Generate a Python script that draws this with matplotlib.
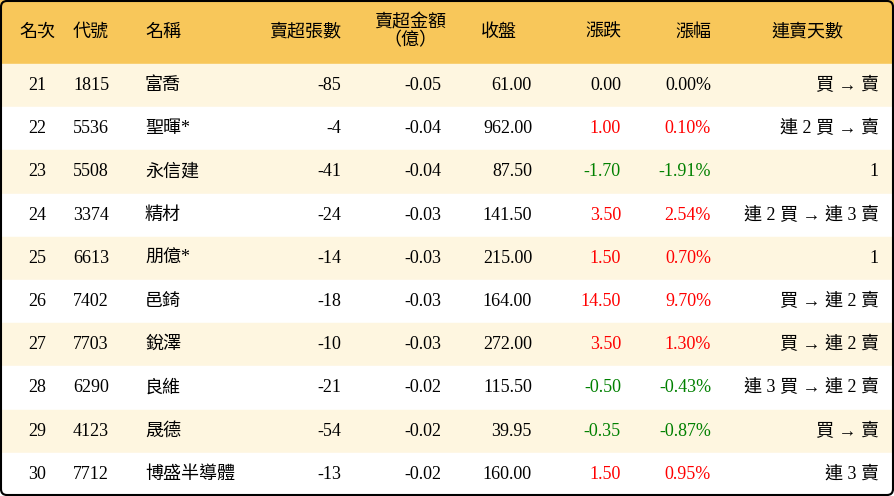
import matplotlib
matplotlib.use("Agg")
from matplotlib import pyplot as plt
from matplotlib.patches import Rectangle, FancyBboxPatch

plt.rcParams["font.family"] = ["Liberation Serif", "Noto Sans CJK TC"]

# table data
ranks = [21, 22, 23, 24, 25, 26, 27, 28, 29, 30]
codes = ["1815", "5536", "5508", "3374", "6613", "7402", "7703", "6290", "4123", "7712"]
names = ["富喬", "聖暉*", "永信建", "精材", "朋億*", "邑錡", "銳澤", "良維", "晟德", "博盛半導體"]
net_sell_lots = [-85, -4, -41, -24, -14, -18, -10, -21, -54, -13]
net_sell_amt = [-0.05, -0.04, -0.04, -0.03, -0.03, -0.03, -0.03, -0.02, -0.02, -0.02]
close = [61.00, 962.00, 87.50, 141.50, 215.00, 164.00, 272.00, 115.50, 39.95, 160.00]
change = [0.00, 1.00, -1.70, 3.50, 1.50, 14.50, 3.50, -0.50, -0.35, 1.50]
change_pct = [0.00, 0.10, -1.91, 2.54, 0.70, 9.70, 1.30, -0.43, -0.87, 0.95]
streak = ["買 → 賣", "連 2 買 → 賣", "1", "連 2 買 → 連 3 賣", "1",
          "買 → 連 2 賣", "買 → 連 2 賣", "連 3 買 → 連 2 賣", "買 → 賣", "連 3 賣"]
headers = ["名次", "代號", "名稱", "賣超張數", "賣超金額\n（億）", "收盤", "漲跌", "漲幅", "連賣天數"]

W, H = 894, 496
head_h = 64
row_h = (H - head_h) / len(ranks)

fig = plt.figure(figsize=(W / 100, H / 100), dpi=100)
ax = fig.add_axes([0, 0, 1, 1])
ax.set_xlim(0, W)
ax.set_ylim(H, 0)
ax.axis("off")

ax.add_patch(Rectangle((0, 0), W, head_h, color="#F8C75A", zorder=0))
for i in range(len(ranks)):
    c = "#FEF6E0" if i % 2 == 0 else "white"
    ax.add_patch(Rectangle((0, head_h + i * row_h), W, row_h, color=c, zorder=0))
ax.add_patch(FancyBboxPatch((1, 1), W - 2, H - 2, boxstyle="round,pad=0,rounding_size=6",
                            fill=False, ec="black", lw=1.5, zorder=3))

fs = 13
hx = [(37, "center"), (73, "left"), (145, "left"), (341, "right"), (410, "center"),
      (517, "right"), (621, "right"), (711, "right"), (807, "center")]
for (x, ha), t in zip(hx, headers):
    ax.text(x, 32, t, ha=ha, va="center", fontsize=fs, linespacing=1.0)

def col(v):
    if v > 0:
        return "#FF0000"
    if v < 0:
        return "#008000"
    return "black"

for i in range(len(ranks)):
    y = head_h + (i + 0.5) * row_h
    ax.text(37, y, str(ranks[i]), ha="center", va="center", fontsize=fs)
    ax.text(73, y, codes[i], ha="left", va="center", fontsize=fs)
    ax.text(145, y, names[i], ha="left", va="center", fontsize=fs)
    ax.text(341, y, str(net_sell_lots[i]), ha="right", va="center", fontsize=fs)
    ax.text(441, y, f"{net_sell_amt[i]:.2f}", ha="right", va="center", fontsize=fs)
    ax.text(532, y, f"{close[i]:.2f}", ha="right", va="center", fontsize=fs)
    ax.text(621, y, f"{change[i]:.2f}", ha="right", va="center", fontsize=fs, color=col(change[i]))
    ax.text(711, y, f"{change_pct[i]:.2f}%", ha="right", va="center", fontsize=fs, color=col(change_pct[i]))
    ax.text(879, y, streak[i], ha="right", va="center", fontsize=fs)

fig.savefig("out.png", dpi=100)
